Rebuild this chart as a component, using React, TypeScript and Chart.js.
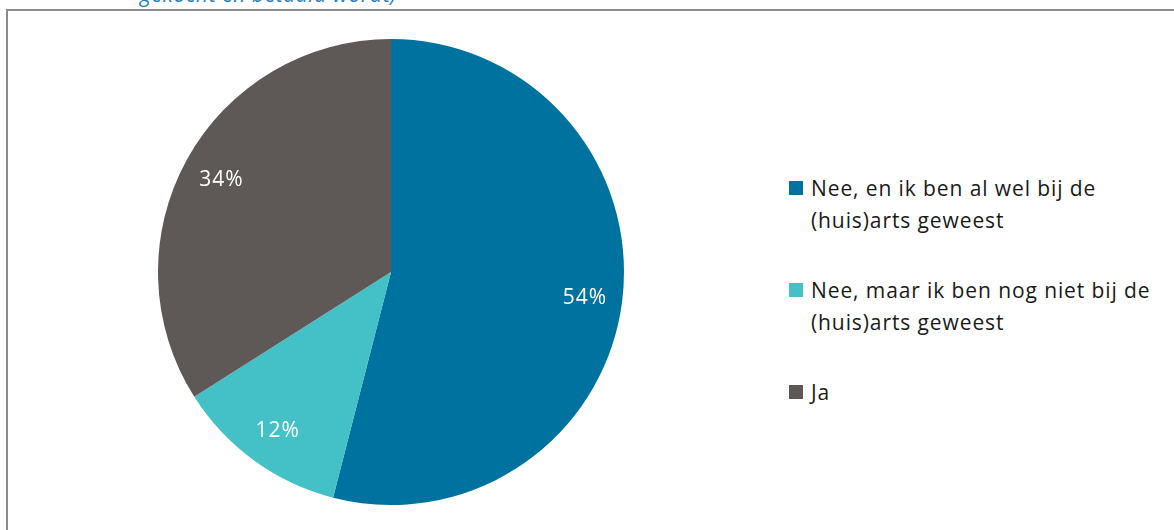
import React, { useEffect, useRef } from "react";
import { Chart, registerables } from "chart.js";

Chart.register(...registerables);

const categories: string[] = [
  "Nee, en ik ben al wel bij de (huis)arts geweest",
  "Nee, maar ik ben nog niet bij de (huis)arts geweest",
  "Ja",
];
const values: number[] = [54, 12, 34];
const colors: string[] = ["#00729F", "#43C1C7", "#5E5956"];
const titleText = "gekocht en betaald wordt)";

const labelPlugin = {
  id: "sliceLabels",
  afterDatasetsDraw(chart: any) {
    const ctx = chart.ctx;
    const meta = chart.getDatasetMeta(0);
    const data = chart.data.datasets[0].data as number[];
    const total = data.reduce((a, b) => a + b, 0);
    ctx.save();
    ctx.fillStyle = "#ffffff";
    ctx.font = "21px 'Open Sans'";
    try {
      (ctx as any).letterSpacing = "1px";
    } catch (e) {}
    ctx.textAlign = "center";
    ctx.textBaseline = "middle";
    meta.data.forEach((arc: any, i: number) => {
      const p = arc.getProps(["x", "y", "startAngle", "endAngle", "outerRadius"], true);
      const mid = (p.startAngle + p.endAngle) / 2;
      const r = p.outerRadius * 0.835;
      const x = p.x + Math.cos(mid) * r;
      const y = p.y + Math.sin(mid) * r;
      ctx.fillText(Math.round((data[i] / total) * 100) + "%", x + 1, y + 2);
    });
    ctx.restore();
  },
};

export default function App() {
  const ref = useRef<HTMLCanvasElement | null>(null);
  useEffect(() => {
    if (!ref.current) return;
    const chart = new Chart(ref.current, {
      type: "pie",
      data: {
        labels: categories,
        datasets: [
          {
            data: values,
            backgroundColor: colors,
            borderWidth: 0,
          },
        ],
      },
      options: {
        animation: false,
        responsive: false,
        maintainAspectRatio: false,
        layout: { padding: 0 },
        plugins: {
          legend: { display: false },
          tooltip: { enabled: false },
        },
      },
      plugins: [labelPlugin],
    });
    return () => chart.destroy();
  }, []);

  return (
    <div
      style={{
        position: "absolute",
        left: 0,
        top: 0,
        width: 1174,
        height: 530,
        overflow: "hidden",
        background: "#ffffff",
        fontFamily: "'Open Sans', sans-serif",
      }}
    >
      <div
        style={{
          position: "absolute",
          left: 140,
          top: -16,
          fontSize: 21,
          lineHeight: "20px",
          letterSpacing: "0.6px",
          fontStyle: "italic",
          color: "#2A80B9",
          whiteSpace: "nowrap",
        }}
      >
        {titleText}
      </div>
      <div
        style={{
          position: "absolute",
          left: 6,
          top: 9,
          width: 1300,
          height: 700,
          borderLeft: "2px solid #8c8c8c",
          borderTop: "2px solid #8c8c8c",
        }}
      />
      <canvas
        ref={ref}
        width={466}
        height={466}
        style={{ position: "absolute", left: 158, top: 39, width: 466, height: 466 }}
      />
      <div style={{ position: "absolute", left: 789, top: 172 }}>
        {categories.map((c, i) => (
          <div
            key={i}
            style={{
              position: "relative",
              paddingLeft: 22,
              width: 362,
              marginBottom: 38,
              fontSize: 21,
              letterSpacing: "0.9px",
              lineHeight: "32px",
              color: "#1a1a1a",
            }}
          >
            <span
              style={{
                position: "absolute",
                left: 0,
                top: 9,
                width: 14,
                height: 14,
                background: colors[i],
              }}
            />
            {c}
          </div>
        ))}
      </div>
    </div>
  );
}
